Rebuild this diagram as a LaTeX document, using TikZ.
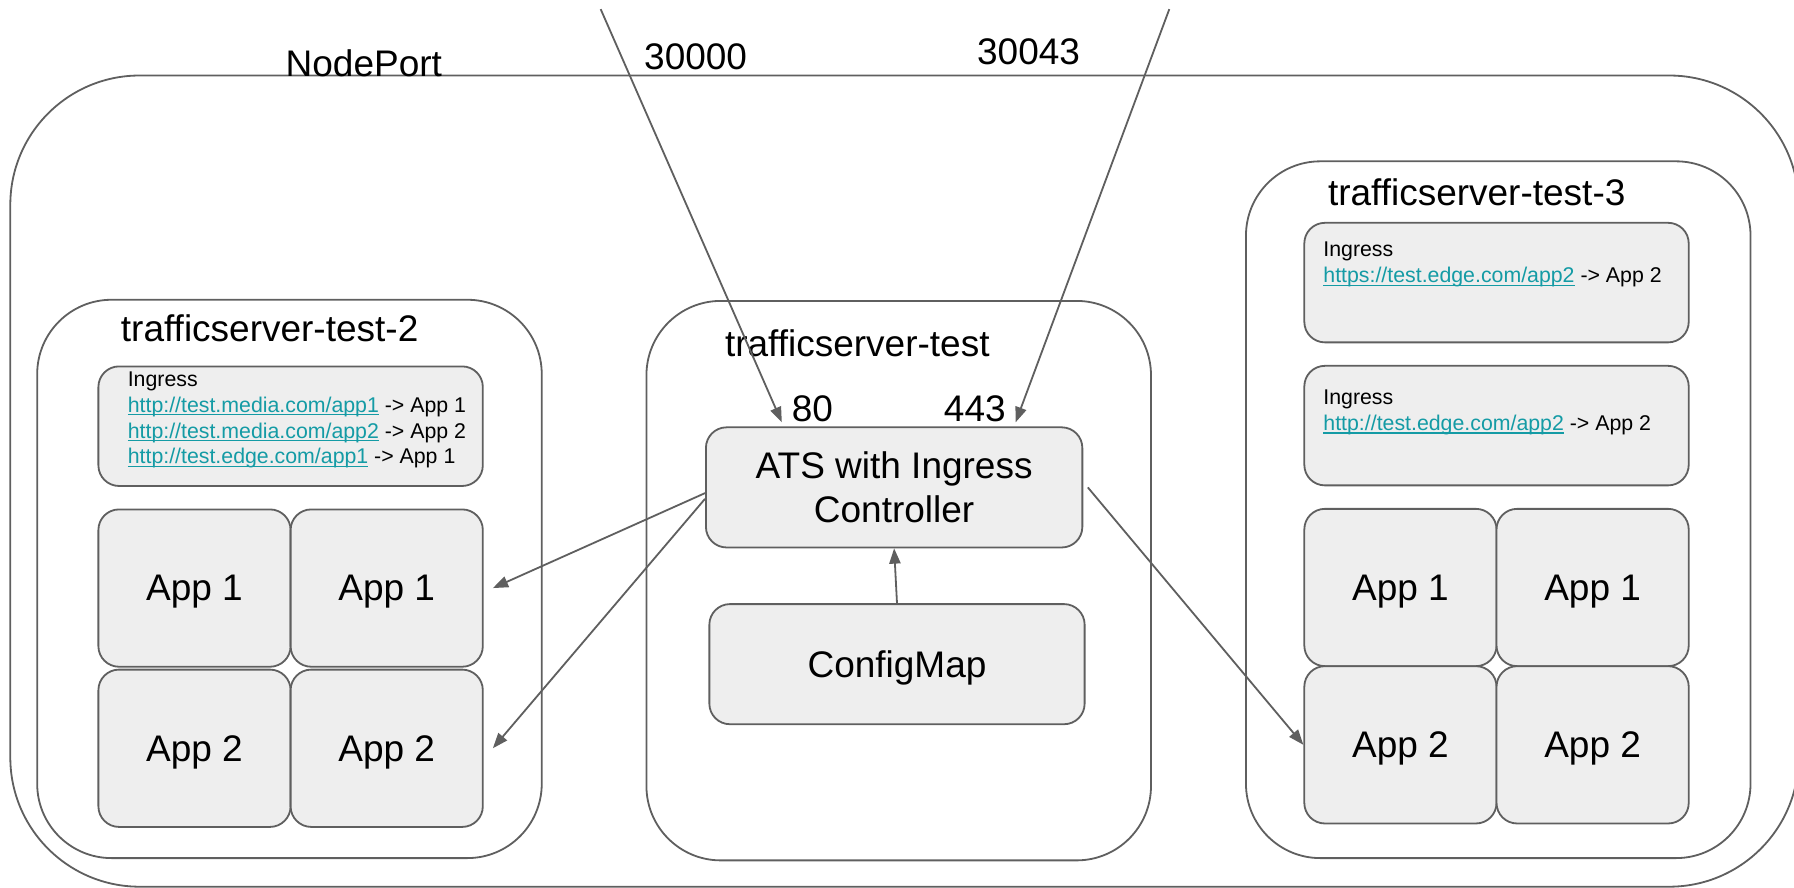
\documentclass[tikz,border=0pt]{standalone}
\usepackage{fontspec}
\setmainfont{Liberation Sans}
\usepackage{xcolor}
\usepackage{tikz}
\usetikzlibrary{arrows.meta, positioning}
\definecolor{linegray}{RGB}{95,95,95}
\definecolor{boxgray}{RGB}{238,238,238}
\definecolor{linkteal}{RGB}{20,155,165}
\newcommand{\tsbig}{\fontsize{9.2}{10.8}\selectfont}
\newcommand{\tssmall}{\fontsize{5.3}{6.45}\selectfont}
\newcommand{\lnk}[1]{{\color{linkteal}\setbox0\hbox{#1}\rlap{\rule[-0.8pt]{\wd0}{0.35pt}}\box0}}
\tikzstyle{cluster} = [rectangle, draw=linegray, line width=0.45pt, rounded corners=6.5mm, minimum width=44.1mm]
\tikzstyle{box} = [rectangle, draw=linegray, fill=boxgray, line width=0.45pt, rounded corners=1.8mm]
\tikzstyle{app} = [box, minimum width=16.8mm, minimum height=13.75mm, font=\tsbig, text depth=0pt]
\tikzstyle{ingress} = [box, minimum width=33.6mm, minimum height=10.45mm]
\tikzstyle{bigtext} = [inner sep=0pt, font=\tsbig]
\tikzstyle{smalltext} = [inner sep=0pt, font=\tssmall, align=left, anchor=north west]
\tikzstyle{arrow} = [draw=linegray, line width=0.45pt, -{Triangle[length=3.8pt,width=2.8pt]}]

\begin{document}
\begin{tikzpicture}[x=0.1mm, y=-0.1mm]
    % Frame
    \clip (0,0) rectangle (1568,776);

    % NodePort
    \node (nodeport) [cluster, rounded corners=11.3mm, minimum width=156.3mm, minimum height=70.9mm] at (790.5,420.5) {};
    \node (nplabel) [bigtext] at (318,55) {NodePort};
    \node (np80) [bigtext] at (608,50) {30000};
    \node (np443) [bigtext] at (899,45) {30043};

    % trafficserver-test-2
    \node (ts2) [cluster, minimum height=48.8mm] at (253,506) {};
    \node (ts2title) [bigtext, anchor=west] at (105,287) {trafficserver-test-2};
    \node (ing2) [ingress] at (254,372.5) {};
    \node (ing2text) [smalltext] at (111,324) {Ingress\\\lnk{http://test.media.com/app1} -> App 1\\\lnk{http://test.media.com/app2} -> App 2\\\lnk{http://test.edge.com/app1} -> App 1};
    \node (lapp1a) [app] at (170,514) {App 1};
    \node (lapp1b) [app] at (338,514) {App 1};
    \node (lapp2a) [app] at (170,654) {App 2};
    \node (lapp2b) [app] at (338,654) {App 2};

    % trafficserver-test
    \node (ts1) [cluster, minimum height=48.9mm] at (785.5,507.5) {};
    \node (ts1title) [bigtext, anchor=west] at (633,300) {trafficserver-test};
    \node (ats) [box, minimum width=32.9mm, minimum height=10.5mm, font=\tsbig, align=center] at (781.5,426) {ATS with Ingress\\Controller};
    \node (cfg) [box, minimum width=32.8mm, minimum height=10.5mm, font=\tsbig, text depth=0pt] at (784,580.5) {ConfigMap};
    \node (p80) [bigtext] at (710,357) {80};
    \node (p443) [bigtext] at (852,357) {443};

    % trafficserver-test-3
    \node (ts3) [cluster, minimum height=60.9mm] at (1309.5,445.5) {};
    \node (ts3title) [bigtext, anchor=west] at (1160,168) {trafficserver-test-3};
    \node (ing3a) [ingress] at (1308,247) {};
    \node (ing3atext) [smalltext] at (1156,211) {Ingress\\\lnk{https://test.edge.com/app2} -> App 2};
    \node (ing3b) [ingress] at (1308,372) {};
    \node (ing3btext) [smalltext] at (1156,340) {Ingress\\\lnk{http://test.edge.com/app2} -> App 2};
    \node (rapp1a) [app] at (1224,513.5) {App 1};
    \node (rapp1b) [app] at (1392,513.5) {App 1};
    \node (rapp2a) [app] at (1224,651) {App 2};
    \node (rapp2b) [app] at (1392,651) {App 2};

    % Incoming traffic
    \coordinate (in80) at (525,8);
    \coordinate (in443) at (1022,8);
    \draw [arrow] (in80) -- ([xshift=-0.8mm]p80.south west);
    \draw [arrow] (in443) -- ([xshift=0.8mm]p443.south east);

    % Arrows
    \draw [arrow] (cfg.north) -- (ats.south);
    \draw [arrow] ([yshift=-0.5mm]ats.west) -- ([xshift=0.8mm]lapp1b.east);
    \draw [arrow] ([yshift=-1mm]ats.west) -- ([xshift=0.8mm]lapp2b.east);
    \draw [arrow] ([xshift=0.4mm]ats.east) -- (rapp2a.west);
\end{tikzpicture}
\end{document}
